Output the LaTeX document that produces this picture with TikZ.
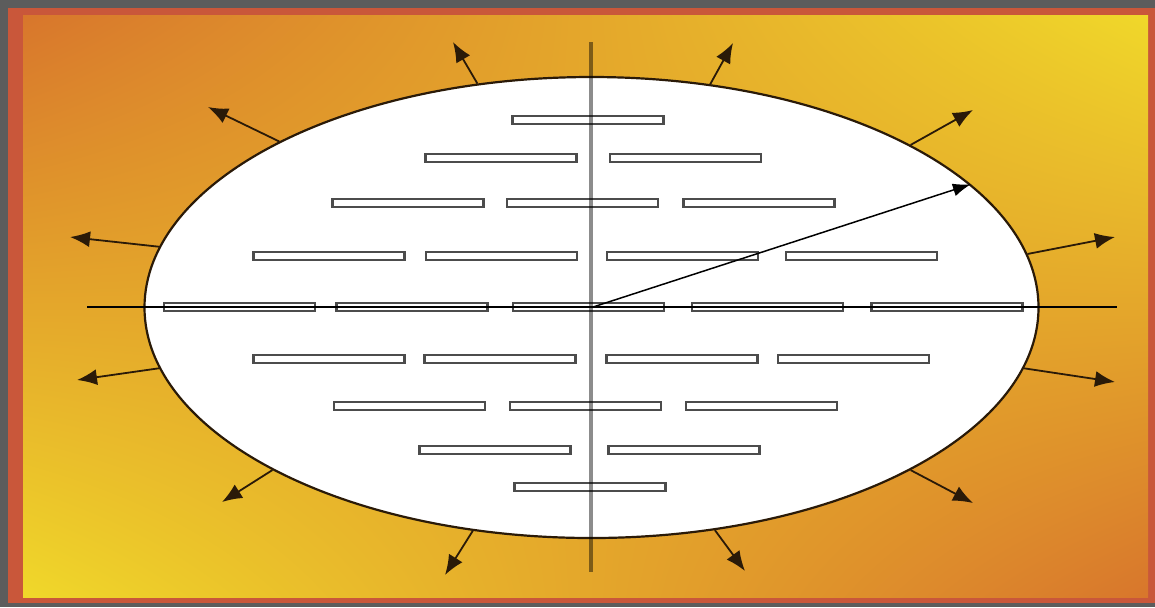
\documentclass[tikz,border=0pt]{standalone}
\usetikzlibrary{arrows.meta,shapes.geometric,shadings}
\definecolor{bggray}{HTML}{5C5C5C}
\definecolor{framec}{HTML}{C9573A}
\definecolor{orng}{HTML}{D8762C}
\definecolor{yllw}{HTML}{F0D82A}
\definecolor{edgec}{HTML}{2A1A08}
\begin{document}
\begin{tikzpicture}[x=0.5pt,y=-0.5pt,
  slab/.style={draw=black!70, fill=white, line width=1.1pt, rectangle, inner sep=0pt, minimum width=75.5pt, minimum height=3.8pt},
  outarrow/.style={draw=edgec, line width=0.9pt, -{Latex[length=10pt,width=8pt]}},
  radarrow/.style={draw=black, line width=0.75pt, -{Latex[length=9pt,width=6.5pt]}},
  vaxis/.style={draw=black, opacity=0.45, line width=2pt},
  haxis/.style={draw=black, line width=0.6pt}]
\useasboundingbox (0,0) rectangle (1155,607);
\fill[bggray] (0,0) rectangle (1155,607);
\fill[framec] (8,8) rectangle (1155,603);
\shade[upper left=orng, upper right=yllw, lower left=yllw, lower right=orng] (23,15) rectangle (1148,597);
\node[ellipse, draw=edgec, line width=1.1pt, fill=white, minimum width=447pt, minimum height=230.5pt, inner sep=0pt] (e) at (591.5,307.5) {};
% slabs
\foreach \x [count=\i] in {588} \node[slab] (ra\i) at (\x,120) {};
\foreach \x [count=\i] in {501,685.5} \node[slab] (rb\i) at (\x,158) {};
\foreach \x [count=\i] in {408,582.5,759} \node[slab] (rc\i) at (\x,203) {};
\foreach \x [count=\i] in {329,501.5,682.5,861.5} \node[slab] (rd\i) at (\x,256) {};
\foreach \x [count=\i] in {239.5,412,588.5,767.5,947} \node[slab] (re\i) at (\x,307) {};
\foreach \x [count=\i] in {329,500,682,853.5} \node[slab] (rf\i) at (\x,359) {};
\foreach \x [count=\i] in {409.5,585.5,761.5} \node[slab] (rg\i) at (\x,406) {};
\foreach \x [count=\i] in {495,684} \node[slab] (rh\i) at (\x,450) {};
\foreach \x [count=\i] in {590} \node[slab] (ri\i) at (\x,487) {};
% axes
\coordinate (vtop) at (591,42);
\coordinate (vbot) at (591,572);
\coordinate (hl) at (87,307);
\coordinate (hr) at (1117,307);
\draw[haxis] (hl) -- (hr);
\draw[vaxis] (vtop) -- (vbot);
% arrow tips
\coordinate (t1) at (453,42);
\coordinate (t2) at (733,43);
\coordinate (t3) at (208,107);
\coordinate (t4) at (973,110);
\coordinate (t5) at (70,237);
\coordinate (t6) at (1115,237);
\coordinate (t7) at (77,380);
\coordinate (t8) at (1115,382);
\coordinate (t9) at (222,502);
\coordinate (t10) at (973,503);
\coordinate (t11) at (445,575);
\coordinate (t12) at (745,571);
\draw[outarrow] (e.117) -- (t1);
\draw[outarrow] (e.62.6) -- (t2);
\draw[outarrow] (e.152) -- (t3);
\draw[outarrow] (e.27.3) -- (t4);
\draw[outarrow] (e.172.3) -- (t5);
\draw[outarrow] (e.7.8) -- (t6);
\draw[outarrow] (e.188.2) -- (t7);
\draw[outarrow] (e.-8.1) -- (t8);
\draw[outarrow] (e.207.9) -- (t9);
\draw[outarrow] (e.-27.6) -- (t10);
\draw[outarrow] (e.242) -- (t11);
\draw[outarrow] (e.-61.2) -- (t12);
\draw[radarrow] (e.center) -- (e.18.5);
\end{tikzpicture}
\end{document}
